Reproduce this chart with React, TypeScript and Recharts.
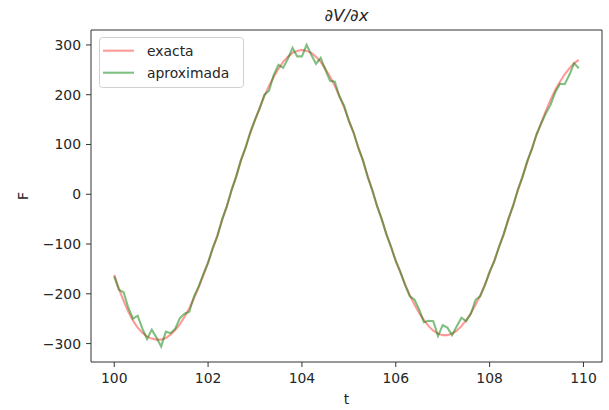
import {
  LineChart,
  Line,
  XAxis,
  YAxis,
  Legend,
  ReferenceArea,
} from "recharts";

const tValues = [
  100, 100.1, 100.2, 100.3, 100.4, 100.5, 100.6, 100.7, 100.8, 100.9,
  101, 101.1, 101.2, 101.3, 101.4, 101.5, 101.6, 101.7, 101.8, 101.9,
  102, 102.1, 102.2, 102.3, 102.4, 102.5, 102.6, 102.7, 102.8, 102.9,
  103, 103.1, 103.2, 103.3, 103.4, 103.5, 103.6, 103.7, 103.8, 103.9,
  104, 104.1, 104.2, 104.3, 104.4, 104.5, 104.6, 104.7, 104.8, 104.9,
  105, 105.1, 105.2, 105.3, 105.4, 105.5, 105.6, 105.7, 105.8, 105.9,
  106, 106.1, 106.2, 106.3, 106.4, 106.5, 106.6, 106.7, 106.8, 106.9,
  107, 107.1, 107.2, 107.3, 107.4, 107.5, 107.6, 107.7, 107.8, 107.9,
  108, 108.1, 108.2, 108.3, 108.4, 108.5, 108.6, 108.7, 108.8, 108.9,
  109, 109.1, 109.2, 109.3, 109.4, 109.5, 109.6, 109.7, 109.8, 109.9,
];

const exacta = [
  -162, -190, -214, -236, -254, -268, -278, -286, -290, -292,
  -292, -289, -282, -273, -261, -246, -229, -209, -187, -163,
  -137, -110, -82, -52, -23, 7, 37, 67, 95, 123,
  149, 174, 197, 218, 236, 252, 266, 276, 284, 288,
  290, 288, 284, 276, 266, 252, 236, 218, 197, 174,
  149, 123, 95, 67, 37, 7, -22, -51, -79, -107,
  -133, -158, -181, -203, -222, -239, -253, -265, -274, -280,
  -283, -283, -280, -274, -265, -253, -239, -222, -203, -181,
  -158, -133, -107, -79, -51, -22, 7, 36, 64, 92,
  119, 144, 168, 190, 210, 226, 241, 253, 263, 270,
];

const aproximada = [
  -165, -192, -197, -228, -250, -244, -270, -291, -272, -288,
  -306, -276, -279, -270, -249, -240, -236, -205, -185, -160,
  -138, -107, -84, -50, -25, 9, 35, 69, 93, 125,
  150, 172, 200, 208, 240, 260, 254, 272, 294, 277,
  277, 300, 280, 262, 274, 250, 228, 226, 196, 178,
  147, 125, 93, 69, 35, 9, -24, -49, -81, -105,
  -135, -156, -183, -205, -212, -232, -257, -254, -255, -285,
  -263, -268, -283, -265, -248, -255, -240, -212, -205, -183,
  -155, -135, -105, -81, -49, -24, 9, 34, 66, 90,
  121, 142, 163, 180, 205, 222, 221, 240, 263, 253,
];

const xTicks = [100, 102, 104, 106, 108, 110];
const yTicks = [-300, -200, -100, 0, 100, 200, 300];

const data = tValues.map((t, i) => ({
  t,
  exacta: exacta[i],
  aproximada: aproximada[i],
}));

const FONT = "DejaVu Sans";
const TEXT = "#262626";
const X_DOMAIN = [99.505, 110.395];
const Y_DOMAIN = [-337, 330];

const fmt = (v: number) => String(v).replace("-", "\u2212");

// "t" under the x axis plus the title above the plot
const XLabel = () => (
  <g>
    <text x={346.5} y={404} textAnchor="middle" fontFamily={FONT} fontSize={13.9} fill={TEXT}>
      t
    </text>
    <text x={346.5} y={21} textAnchor="middle" fontFamily={FONT} fontSize={16.7} fontStyle="italic" fill={TEXT}>
      ∂V/∂x
    </text>
  </g>
);

const YLabel = () => (
  <text
    x={28}
    y={196}
    transform="rotate(-90 28 196)"
    textAnchor="middle"
    fontFamily={FONT}
    fontSize={13.9}
    fill={TEXT}
  >
    F
  </text>
);

const LegendBox = () => (
  <svg width={146} height={52} style={{ display: "block" }}>
    <rect x={0.5} y={0.5} width={144} height={50} rx={3} fill="#fff" stroke="#d0d0d0" />
    <line x1={4} x2={35} y1={13.7} y2={13.7} stroke="#ff0000" strokeOpacity={0.4} strokeWidth={2.08} />
    <line x1={4} x2={35} y1={35.7} y2={35.7} stroke="#008000" strokeOpacity={0.5} strokeWidth={2.08} />
    <text x={48} y={18.7} fontFamily={FONT} fontSize={13.9} fill={TEXT}>exacta</text>
    <text x={48} y={40.7} fontFamily={FONT} fontSize={13.9} fill={TEXT}>aproximada</text>
  </svg>
);

export default function App() {
  return (
    <div style={{ position: "absolute", left: 0, top: 0, background: "#fff" }}>
      <LineChart
        width={609}
        height={410}
        data={data}
        margin={{ top: 30, right: 7, bottom: 0, left: 0 }}
      >
        <XAxis
          dataKey="t"
          type="number"
          domain={X_DOMAIN}
          ticks={xTicks}
          allowDataOverflow
          height={48}
          axisLine={false}
          tickSize={5}
          tickMargin={6}
          tickLine={{ stroke: "#333" }}
          tick={{ fill: TEXT, fontSize: 13.9, fontFamily: FONT }}
          label={{ content: <XLabel /> }}
        />
        <YAxis
          type="number"
          domain={Y_DOMAIN}
          ticks={yTicks}
          allowDataOverflow
          width={91}
          axisLine={false}
          tickSize={5}
          tickMargin={5}
          tickLine={{ stroke: "#333" }}
          tickFormatter={fmt}
          tick={{ fill: TEXT, fontSize: 13.9, fontFamily: FONT }}
          label={{ content: <YLabel /> }}
        />
        <ReferenceArea
          x1={X_DOMAIN[0]}
          x2={X_DOMAIN[1]}
          y1={Y_DOMAIN[0]}
          y2={Y_DOMAIN[1]}
          fill="none"
          stroke="#333"
          strokeWidth={1}
          ifOverflow="visible"
        />
        <Line
          type="linear"
          dataKey="exacta"
          stroke="#ff0000"
          strokeOpacity={0.4}
          strokeWidth={2.08}
          dot={false}
          isAnimationActive={false}
        />
        <Line
          type="linear"
          dataKey="aproximada"
          stroke="#008000"
          strokeOpacity={0.5}
          strokeWidth={2.08}
          dot={false}
          isAnimationActive={false}
        />
        <Legend
          layout="vertical"
          align="center"
          verticalAlign="middle"
          content={<LegendBox />}
          wrapperStyle={{ left: 99, top: 37, width: "auto", height: "auto" }}
        />
      </LineChart>
    </div>
  );
}
